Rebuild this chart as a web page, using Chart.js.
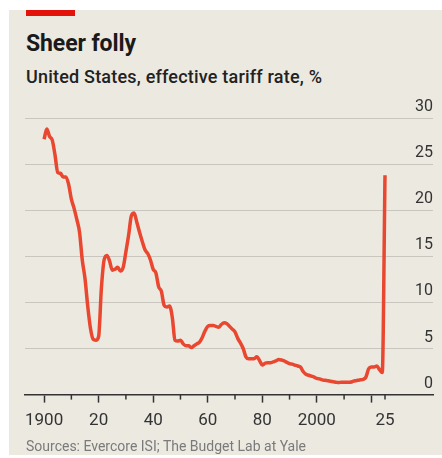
<!DOCTYPE html>
<html>
<head>
<meta charset="utf-8">
<script src="https://cdn.jsdelivr.net/npm/chart.js@4.4.1/dist/chart.umd.min.js"></script>
<style>
  body { margin: 0; width: 442px; height: 458px; overflow: hidden; position: relative; background: #fff; font-family: Roboto, "Noto Sans", sans-serif; }
  #panel { position: absolute; left: 9px; top: 10px; width: 433px; height: 445px; background: #ece9e1; }
  #redbar { position: absolute; left: 26px; top: 10px; width: 49px; height: 6px; background: #e3120b; }
  .txt { position: absolute; left: 26px; line-height: 1; white-space: nowrap; }
  #title { top: 31.5px; font-size: 23px; font-weight: 700; color: #1a1a1a; letter-spacing: -0.1px; }
  #subtitle { top: 68px; font-size: 18px; font-weight: 500; color: #222; letter-spacing: 0.2px; }
  #source { top: 439px; font-size: 14px; color: #7a7a7a; }
  #wrap { position: absolute; left: 0; top: 90px; }
</style>
</head>
<body>
<div id="panel"></div>
<div id="redbar"></div>
<div class="txt" id="title">Sheer folly</div>
<div class="txt" id="subtitle">United States, effective tariff rate, %</div>
<div id="wrap"><canvas id="myChart" width="442" height="353"></canvas></div>
<div class="txt" id="source">Sources: Evercore ISI; The Budget Lab at Yale</div>

<script>
// effective tariff rate, %
let years = [
  1900, 1901, 1902, 1903, 1904, 1905, 1906, 1907, 1908, 1909,
  1910, 1911, 1912, 1913, 1914, 1915, 1916, 1917, 1918, 1919,
  1920, 1921, 1922, 1923, 1924, 1925, 1926, 1927, 1928, 1929,
  1930, 1931, 1932, 1933, 1934, 1935, 1936, 1937, 1938, 1939,
  1940, 1941, 1942, 1943, 1944, 1945, 1946, 1947, 1948, 1949,
  1950, 1951, 1952, 1953, 1954, 1955, 1956, 1957, 1958, 1959,
  1960, 1961, 1962, 1963, 1964, 1965, 1966, 1967, 1968, 1969,
  1970, 1971, 1972, 1973, 1974, 1975, 1976, 1977, 1978, 1979,
  1980, 1981, 1982, 1983, 1984, 1985, 1986, 1987, 1988, 1989,
  1990, 1991, 1992, 1993, 1994, 1995, 1996, 1997, 1998, 1999,
  2000, 2001, 2002, 2003, 2004, 2005, 2006, 2007, 2008, 2009,
  2010, 2011, 2012, 2013, 2014, 2015, 2016, 2017, 2018, 2019,
  2020, 2021, 2022, 2023, 2024, 2025
];
let rates = [
  27.7, 28.8, 28.0, 27.6, 26.0, 24.1, 24.0, 23.6, 23.6, 22.8,
  21.2, 20.2, 19.0, 17.6, 14.6, 12.6, 9.6, 7.2, 6.0, 5.9,
  6.3, 11.5, 14.6, 15.1, 14.5, 13.5, 13.6, 13.8, 13.4, 13.8,
  15.5, 17.3, 19.4, 19.7, 18.7, 17.6, 16.6, 15.7, 15.3, 14.6,
  13.6, 13.2, 11.7, 11.2, 9.7, 9.5, 9.6, 8.4, 5.9, 5.8,
  5.9, 5.5, 5.3, 5.3, 5.1, 5.3, 5.5, 5.7, 6.2, 6.9,
  7.4, 7.5, 7.5, 7.4, 7.3, 7.6, 7.8, 7.7, 7.4, 7.1,
  6.8, 6.1, 5.6, 5.0, 4.1, 3.9, 3.9, 3.9, 4.1, 3.7,
  3.2, 3.4, 3.45, 3.45, 3.55, 3.65, 3.8, 3.75, 3.65, 3.5,
  3.35, 3.3, 3.2, 3.1, 3.0, 2.5, 2.2, 2.1, 2.0, 1.9,
  1.75, 1.7, 1.6, 1.55, 1.5, 1.45, 1.4, 1.35, 1.3, 1.35,
  1.35, 1.35, 1.35, 1.4, 1.5, 1.55, 1.6, 1.65, 1.9, 2.8,
  3.0, 3.0, 3.1, 2.7, 2.4, 23.8
];

let tickYears = [1900, 1910, 1920, 1930, 1940, 1950, 1960, 1970, 1980, 1990, 2000, 2010, 2020, 2025];
let tickLabels = ["1900", "", "20", "", "40", "", "60", "", "80", "", "2000", "", "", "25"];
let majorYears = [1900, 1920, 1940, 1960, 1980, 2000, 2020];

let lineColor = "#e9472f";
let axisColor = "#333333";
let gridColor = "#c9c6bf";

// shorter tick marks for the unlabelled decades
let minorTicks = {
  id: "minorTicks",
  afterDraw(chart) {
    let x = chart.scales.x;
    let ctx = chart.ctx;
    ctx.save();
    ctx.strokeStyle = axisColor;
    ctx.lineWidth = 1.5;
    tickYears.forEach((yr) => {
      if (majorYears.includes(yr)) return;
      let px = x.getPixelForValue(yr);
      ctx.beginPath();
      ctx.moveTo(px, x.top);
      ctx.lineTo(px, x.top + 5);
      ctx.stroke();
    });
    ctx.restore();
  },
};

let myChart = document.getElementById("myChart").getContext("2d");

new Chart(myChart, {
  type: "line",
  data: {
    datasets: [
      {
        label: "Effective tariff rate",
        data: years.map((yr, i) => ({ x: yr, y: rates[i] })),
        borderColor: lineColor,
        borderWidth: 3.5,
        pointRadius: 0,
        borderJoinStyle: "round",
        cubicInterpolationMode: "monotone",
        fill: false,
      },
    ],
  },
  options: {
    responsive: false,
    animation: false,
    devicePixelRatio: 1,
    layout: { padding: { left: 25, right: 9, top: 28, bottom: 4 } },
    plugins: {
      legend: { display: false },
      tooltip: { enabled: false },
    },
    scales: {
      x: {
        type: "linear",
        min: 1893,
        max: 2042.6,
        afterBuildTicks: (scale) => {
          scale.ticks = tickYears.map((v) => ({ value: v }));
        },
        ticks: {
          autoSkip: false,
          maxRotation: 0,
          padding: 8,
          color: axisColor,
          font: { family: "Roboto", size: 17 },
          callback: (value) => tickLabels[tickYears.indexOf(value)] ?? "",
        },
        grid: {
          drawOnChartArea: false,
          drawTicks: true,
          tickLength: 8,
          tickWidth: 1.5,
          tickColor: (ctx) => (ctx.tick && majorYears.includes(ctx.tick.value) ? axisColor : "transparent"),
        },
        border: { display: true, color: axisColor, width: 1.5 },
      },
      y: {
        position: "right",
        min: 0,
        max: 30,
        ticks: {
          stepSize: 5,
          mirror: true,
          padding: 0,
          labelOffset: -11,
          color: axisColor,
          font: { family: "Roboto", size: 16 },
        },
        grid: {
          drawTicks: false,
          lineWidth: 1,
          color: (ctx) => (ctx.tick && ctx.tick.value === 0 ? "transparent" : gridColor),
        },
        border: { display: false },
      },
    },
  },
  plugins: [minorTicks],
});
</script>
</body>
</html>
